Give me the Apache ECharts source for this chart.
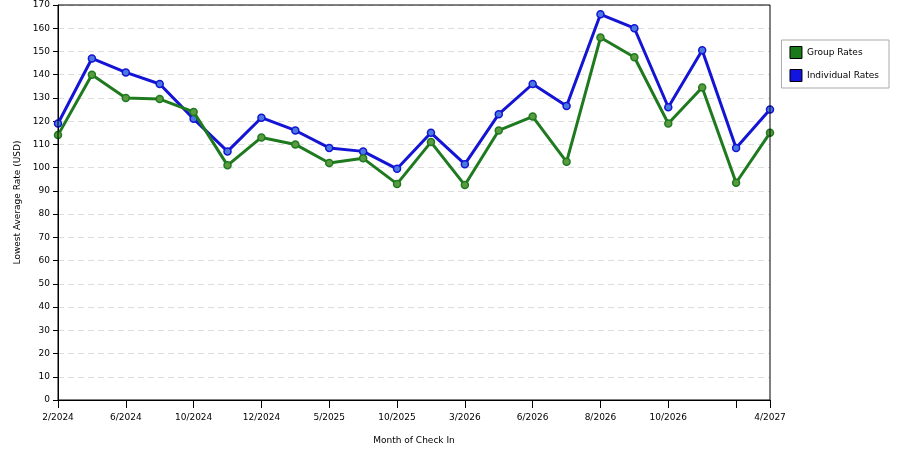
<!DOCTYPE html>
<html><head><meta charset="utf-8">
<script src="https://cdn.jsdelivr.net/npm/echarts@6/dist/echarts.min.js"></script>
<style>html,body{margin:0;padding:0;background:#fff}#c{width:900px;height:450px}</style>
</head><body><div id="c"></div>
<script>
const categories = ["2/2024","","6/2024","","10/2024","","12/2024","","5/2025","","10/2025","","3/2026","","6/2026","","8/2026","","10/2026","","","4/2027"];
const groupRates = [114,140,130,129.5,124,101,113,110,102,104,93,111,92.5,116,122,102.5,156,147.5,119,134.5,93.5,115];
const individualRates = [119,147,141,136,121,107,121.5,116,108.5,107,99.5,115,101.5,123,136,126.5,166,160,126,150.5,108.5,125];
const yTicks = {min:0,max:170,interval:10};
const chart = echarts.init(document.getElementById('c'));
const font = 'DejaVu Sans';
function ser(name, data, line, fill){
  return {name, type:'line', data, symbol:'circle', symbolSize:7,
    lineStyle:{color:line,width:3}, itemStyle:{color:fill,borderColor:line,borderWidth:1.5}, z: name==='Group Rates'?3:2};
}
chart.setOption({
  animation:false,
  grid:{left:58,right:130,top:5,bottom:50,containLabel:false},
  legend:{orient:'vertical',right:11,top:40,padding:[6,10,6,8],borderColor:'#aaa',borderWidth:1,
    itemWidth:12,itemHeight:12,itemGap:10,icon:'rect',
    textStyle:{fontFamily:font,fontSize:9,color:'#000'},
    data:[{name:'Group Rates',itemStyle:{color:'#1a7a1a',borderColor:'#000',borderWidth:1}},
          {name:'Individual Rates',itemStyle:{color:'#1414e0',borderColor:'#000',borderWidth:1}}]},
  xAxis:{type:'category',data:categories,boundaryGap:false,name:'Month of Check In',nameLocation:'middle',nameGap:36,
    nameTextStyle:{fontFamily:font,fontSize:9,color:'#000'},
    axisLine:{lineStyle:{color:'#000'}},
    axisTick:{interval:(i)=>i%2===0||i===21,length:8,lineStyle:{color:'#000'}},
    axisLabel:{interval:0,margin:13,fontFamily:font,fontSize:9,color:'#000'},
    splitLine:{show:false}},
  yAxis:{type:'value',min:yTicks.min,max:yTicks.max,interval:yTicks.interval,name:'Lowest Average Rate (USD)',
    nameLocation:'middle',nameGap:36,nameTextStyle:{fontFamily:font,fontSize:9,color:'#000'},
    axisLine:{show:true,lineStyle:{color:'#000'}},axisTick:{show:true,lineStyle:{color:'#000'}},
    axisLabel:{fontFamily:font,fontSize:9,color:'#000'},
    splitLine:{lineStyle:{color:'#ddd',type:[6,4]}}},
  series:[ser('Individual Rates',individualRates,'#1414d4','#4a7ae0'), ser('Group Rates',groupRates,'#1f7a1f','#5a9a40')]
});
chart.setOption({graphic:[{type:'rect',shape:{x:58,y:5,width:712,height:395},style:{fill:'none',stroke:'#000',lineWidth:1},silent:true,z:10}]});
</script></body></html>
